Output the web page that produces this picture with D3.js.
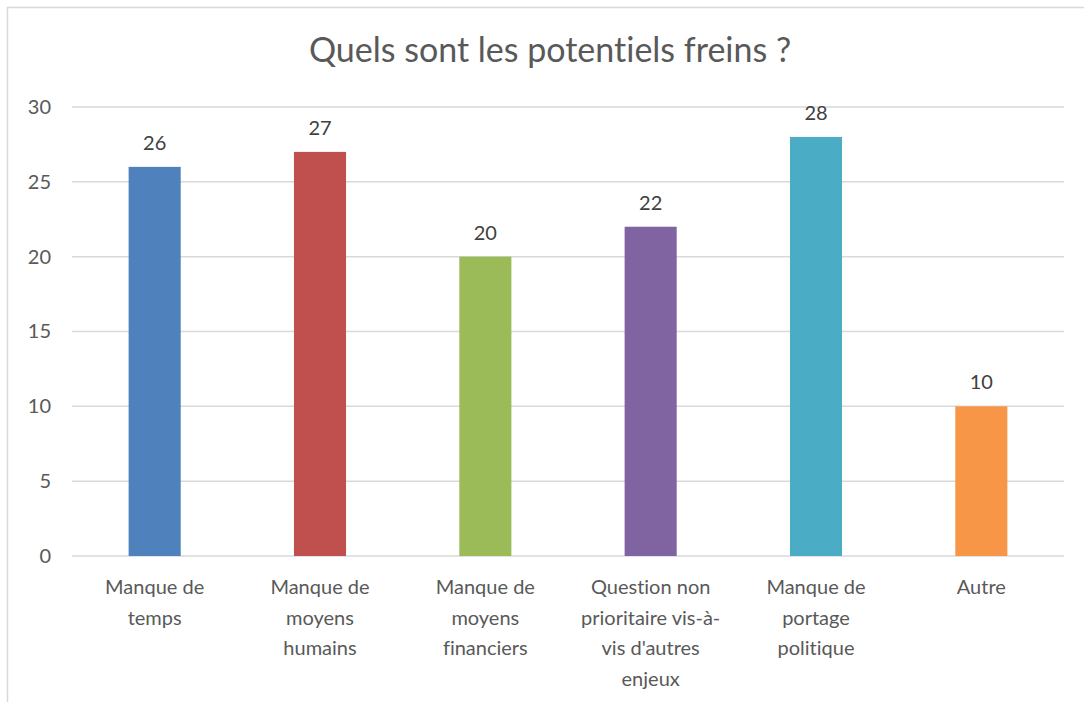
<!DOCTYPE html>
<html>
<head>
<meta charset="utf-8">
<script src="https://cdn.jsdelivr.net/npm/d3@7"></script>
<style>
  body { margin: 0; background: #fff; }
  svg { display: block; font-family: Lato, "Open Sans", sans-serif; font-variant-ligatures: none; }
</style>
</head>
<body>
<svg width="1084" height="702"></svg>
<script>
// data
var categories = [
    ["Manque de", "temps"],
    ["Manque de", "moyens", "humains"],
    ["Manque de", "moyens", "financiers"],
    ["Question non", "prioritaire vis-à-", "vis d'autres", "enjeux"],
    ["Manque de", "portage", "politique"],
    ["Autre"]
];
var values = [26, 27, 20, 22, 28, 10];
var colors = ["#4F81BD", "#C0504D", "#9BBB59", "#8064A2", "#4BACC6", "#F79646"];
var yTicks = [0, 5, 10, 15, 20, 25, 30];
var title = "Quels sont les potentiels freins ?";

var data = values.map(function (v, i) { return { index: i, value: v, label: categories[i], color: colors[i] }; });

var svg = d3.select("svg");
var textColor = "#595959";

// chart border
svg.append("rect")
    .attr("x", 7.5).attr("y", 7.5)
    .attr("width", 1090).attr("height", 710)
    .attr("fill", "none")
    .attr("stroke", "#D9D9D9")
    .attr("stroke-width", 1.5);

svg.append("text")
    .attr("x", 550)
    .attr("y", 62)
    .attr("text-anchor", "middle")
    .attr("font-size", "34px")
    .attr("fill", textColor)
    .text(title);

var plotLeft = 72, plotRight = 1064, plotTop = 107, plotBottom = 556;

var x = d3.scaleBand().domain(data.map(function (d) { return d.index; }))
    .range([plotLeft, plotRight]).paddingInner(0.685).paddingOuter(0.3425);
var y = d3.scaleLinear().domain([0, 30]).range([plotBottom, plotTop]);

// gridlines
svg.append("g")
    .selectAll("line")
    .data(yTicks)
    .enter().append("line")
    .attr("x1", plotLeft).attr("x2", plotRight)
    .attr("y1", function (d) { return y(d); })
    .attr("y2", function (d) { return y(d); })
    .attr("stroke", "#D9D9D9")
    .attr("stroke-width", 1.5);

// y axis labels
var yAxis = svg.append("g")
    .attr("transform", "translate(" + (plotLeft - 21) + ",0)")
    .call(d3.axisLeft(y).tickValues(yTicks).tickSize(0).tickPadding(0));
yAxis.select(".domain").remove();
yAxis.selectAll("text")
    .attr("font-family", "Lato, 'Open Sans', sans-serif")
    .attr("font-size", "20px")
    .attr("fill", textColor);

// bars
svg.selectAll(".bar")
    .data(data)
    .enter().append("rect")
    .attr("class", "bar")
    .attr("x", function (d) { return x(d.index); })
    .attr("y", function (d) { return y(d.value); })
    .attr("width", x.bandwidth())
    .attr("height", function (d) { return y(0) - y(d.value); })
    .attr("fill", function (d) { return d.color; });

// value labels
svg.selectAll(".val")
    .data(data)
    .enter().append("text")
    .attr("class", "val")
    .attr("x", function (d) { return x(d.index) + x.bandwidth() / 2; })
    .attr("y", function (d) { return y(d.value) - 17; })
    .attr("text-anchor", "middle")
    .attr("font-size", "20px")
    .attr("fill", "#404040")
    .text(function (d) { return d.value; });

// category labels
var cat = svg.selectAll(".cat")
    .data(data)
    .enter().append("text")
    .attr("class", "cat")
    .attr("text-anchor", "middle")
    .attr("font-size", "20px")
    .attr("fill", textColor);

cat.selectAll("tspan")
    .data(function (d) { return d.label.map(function (l) { return { l: l, cx: x(d.index) + x.bandwidth() / 2 }; }); })
    .enter().append("tspan")
    .attr("x", function (d) { return d.cx; })
    .attr("y", function (d, i) { return 594 + i * 30.5; })
    .text(function (d) { return d.l; });
</script>
</body>
</html>
